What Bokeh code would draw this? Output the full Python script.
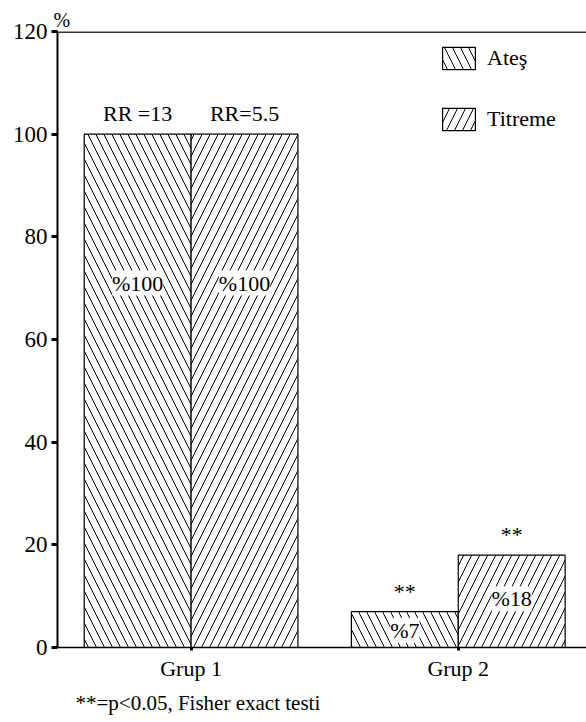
import numpy as np
from bokeh.plotting import figure
from bokeh.models import (ColumnDataSource, Range1d, FixedTicker, Span, Title,
                          LabelSet, Legend, LegendItem)
from bokeh.embed import file_html
from bokeh.resources import INLINE

# ---- data ----
groups = ["Grup 1", "Grup 2"]
ates = [100, 7]
titreme = [100, 18]
ates_pct = ["%100", "%7"]
titreme_pct = ["%100", "%18"]
ates_note = ["RR =13", "**"]
titreme_note = ["RR=5.5", "**"]
y_ticks = [0, 20, 40, 60, 80, 100, 120]
footnote = "**=p<0.05, Fisher exact testi"

FONT = "Liberation Serif"
xpos = np.arange(1, len(groups) + 1)
bw = 0.4

src_a = ColumnDataSource(dict(x=xpos - bw / 2, top=ates, pct=ates_pct, note=ates_note,
                              ly=[71, 3.3]))
src_t = ColumnDataSource(dict(x=xpos + bw / 2, top=titreme, pct=titreme_pct, note=titreme_note,
                              ly=[71, 9.5]))

p = figure(width=586, height=720, output_backend="svg", toolbar_location=None,
           x_range=Range1d(0.5, 2.48), y_range=Range1d(0, 120),
           min_border_left=57, min_border_right=0, min_border_top=31, min_border_bottom=73)
p.outline_line_color = None
p.background_fill_color = "white"
p.border_fill_color = "white"
p.grid.visible = False

ra = p.vbar(x="x", top="top", width=bw, source=src_a, fill_color="white",
            line_color="black", line_width=1.2, hatch_pattern="\\", hatch_color="black",
            hatch_scale=16, hatch_weight=1)
rt = p.vbar(x="x", top="top", width=bw, source=src_t, fill_color="white",
            line_color="black", line_width=1.2, hatch_pattern="/", hatch_color="black",
            hatch_scale=16, hatch_weight=1)

# axes
p.yaxis.ticker = FixedTicker(ticks=y_ticks)
p.yaxis.major_label_text_font = FONT
p.yaxis.major_label_text_font_size = "23px"
p.yaxis.major_label_text_color = "black"
p.yaxis.major_tick_out = 6
p.yaxis.major_tick_in = 0
p.yaxis.major_tick_line_width = 3
p.yaxis.minor_tick_line_color = None
p.yaxis.axis_line_width = 2
p.yaxis.major_label_standoff = 4

p.xaxis.ticker = FixedTicker(ticks=list(xpos))
p.xaxis.major_label_overrides = {int(x): g for x, g in zip(xpos, groups)}
p.xaxis.major_label_text_font = FONT
p.xaxis.major_label_text_font_size = "22px"
p.xaxis.major_label_text_color = "black"
p.xaxis.major_tick_out = 3
p.xaxis.major_tick_in = 0
p.xaxis.major_tick_line_width = 3
p.xaxis.minor_tick_line_color = None
p.xaxis.axis_line_width = 1.5
p.xaxis.major_label_standoff = 5

p.add_layout(Span(location=120, dimension="width", line_color="#333333", line_width=3))

# labels inside bars
for src in (src_a, src_t):
    p.add_layout(LabelSet(x="x", y="ly", text="pct", source=src, text_align="center",
                          text_baseline="middle", text_font=FONT, text_font_size="22px",
                          background_fill_color="white", text_color="black"))
    p.add_layout(LabelSet(x="x", y="top", text="note", source=src, text_align="center",
                          text_baseline="bottom", y_offset=8, text_font=FONT,
                          text_font_size="22px", text_color="black"))

p.add_layout(Title(text="%", align="left", offset=-4, standoff=2, text_font=FONT,
                   text_font_size="20px", text_font_style="normal", text_color="black"),
             "above")
p.add_layout(Title(text=footnote, align="left", offset=18, standoff=11, text_font=FONT,
                   text_font_size="21px", text_font_style="normal", text_color="black"),
             "below")

legend = Legend(items=[LegendItem(label="Ateş", renderers=[ra]),
                       LegendItem(label="Titreme", renderers=[rt])],
                location=(381, 514), glyph_width=41, glyph_height=28, spacing=33,
                padding=0, margin=0, label_standoff=8, border_line_color=None,
                background_fill_alpha=0, label_text_font=FONT,
                label_text_font_size="22px", label_text_color="black")
p.add_layout(legend)

open("out.html", "w").write(file_html(p, INLINE))
